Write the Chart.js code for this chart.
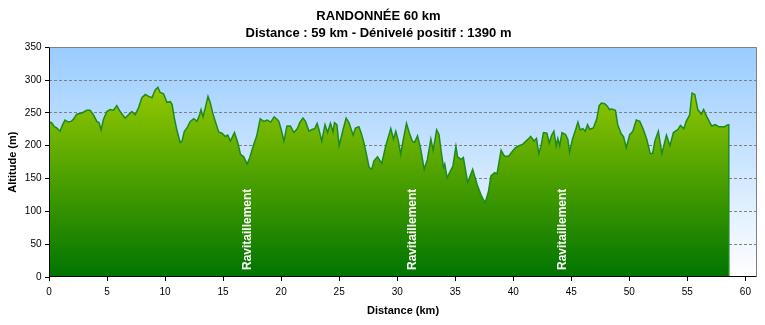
<!doctype html>
<html>
<head>
  <meta charset="utf-8">
  <title>Randonnée 60 km</title>
  <script src="https://cdn.jsdelivr.net/npm/chart.js@4.4.1/dist/chart.umd.min.js"></script>
  <style>
    body{margin:0;background:#fff;}
    #profile{display:block;}
  </style>
</head>
<body>
<canvas id="profile" width="765" height="325"></canvas>
<script>
// profile: distance (km) / altitude (m)
const distances = [
  0, 0.23, 0.46, 0.66, 0.95, 1.15, 1.38, 1.67, 1.9, 2.1, 2.39, 2.68, 2.96, 3.25, 3.54, 3.83, 4.12, 4.32, 4.49, 4.69,
  4.98, 5.27, 5.56, 5.84, 6.13, 6.56, 6.85, 7.14, 7.43, 7.72, 8.0, 8.3, 8.58, 8.87, 9.15, 9.38, 9.58, 9.87, 10.16, 10.45,
  10.6, 10.8, 11.0, 11.3, 11.46, 11.66, 11.89, 12.17, 12.47, 12.75, 12.98, 13.1, 13.27, 13.47, 13.7, 13.9, 14.1, 14.33, 14.62, 14.9,
  15.2, 15.4, 15.63, 15.98, 16.26, 16.5, 16.78, 17.07, 17.3, 17.6, 17.9, 18.2, 18.5, 18.8, 19.1, 19.4, 19.66, 19.8, 20.0, 20.24,
  20.5, 20.8, 21.1, 21.4, 21.6, 21.88, 22.1, 22.4, 22.7, 22.9, 23.1, 23.25, 23.5, 23.78, 24.0, 24.25, 24.47, 24.6, 24.8, 25.0,
  25.3, 25.6, 25.85, 26.2, 26.4, 26.7, 26.9, 27.1, 27.35, 27.58, 27.8, 28.0, 28.3, 28.67, 29.0, 29.45, 29.68, 29.88, 30.1, 30.3,
  30.5, 30.8, 31.03, 31.3, 31.5, 31.75, 32.0, 32.33, 32.6, 32.9, 33.1, 33.4, 33.6, 33.8, 33.99, 34.1, 34.3, 34.6, 34.8, 35.06,
  35.2, 35.5, 35.7, 36.07, 36.5, 36.9, 37.2, 37.57, 37.85, 38.08, 38.4, 38.6, 38.95, 39.24, 39.6, 40.0, 40.2, 40.5, 40.8, 41.1,
  41.4, 41.5, 41.8, 42.0, 42.2, 42.4, 42.6, 42.9, 43.1, 43.3, 43.5, 43.7, 43.84, 44.0, 44.2, 44.5, 44.7, 44.85, 45.1, 45.4,
  45.57, 45.77, 46.0, 46.2, 46.4, 46.6, 46.9, 47.2, 47.4, 47.6, 47.87, 48.07, 48.3, 48.5, 48.8, 49.0, 49.3, 49.5, 49.74, 50.03,
  50.3, 50.6, 50.9, 51.2, 51.5, 51.8, 52.0, 52.2, 52.5, 52.8, 53.0, 53.2, 53.5, 53.8, 54.2, 54.4, 54.7, 54.9, 55.2, 55.4,
  55.64, 55.9, 56.2, 56.4, 56.65, 56.94, 57.1, 57.4, 57.7, 57.94, 58.2, 58.5, 58.57, 58.57
];
const altitudes = [
  236, 235, 229, 227, 222, 231, 239, 236, 237, 240, 248, 249, 251, 254, 254, 247, 237, 235, 224, 240,
  252, 255, 254, 261, 252, 242, 247, 252, 247, 258, 273, 278, 275, 273, 285, 289, 281, 279, 266, 267,
  263, 242, 225, 205, 207, 222, 227, 237, 241, 237, 247, 255, 244, 258, 275, 265, 250, 237, 221, 219,
  214, 216, 207, 220, 205, 187, 183, 172, 182, 200, 215, 241, 237, 239, 236, 244, 240, 237, 225, 207,
  230, 230, 220, 226, 235, 242, 237, 222, 225, 226, 234, 225, 207, 232, 220, 234, 221, 235, 232, 200,
  222, 242, 235, 216, 227, 229, 219, 207, 187, 167, 164, 177, 183, 173, 199, 226, 210, 222, 207, 187,
  207, 234, 220, 207, 205, 215, 197, 164, 179, 210, 193, 224, 217, 190, 167, 172, 151, 162, 169, 199,
  183, 179, 182, 144, 164, 140, 126, 113, 129, 154, 159, 157, 193, 184, 184, 193, 197, 200, 202, 207,
  212, 214, 207, 211, 188, 200, 220, 219, 204, 216, 222, 200, 211, 200, 220, 217, 210, 190, 210, 226,
  236, 224, 226, 222, 232, 225, 227, 241, 261, 265, 264, 261, 255, 256, 254, 232, 218, 214, 197, 217,
  222, 239, 237, 225, 210, 188, 188, 207, 222, 188, 202, 216, 200, 220, 225, 231, 226, 237, 247, 280,
  278, 255, 248, 255, 245, 235, 230, 232, 229, 229, 229, 232, 232, 0
];
// supply points along the route (km)
const supplyKm = [17.1, 31.3, 44.3];
const supplyLabel = 'Ravitaillement';

const titleText = 'RANDONNÉE 60 km';
const subtitleText = 'Distance : 59 km - Dénivelé positif : 1390 m';

const FONT = 'Liberation Sans, Arial, sans-serif';

// sky behind the profile + frame and supply labels on top
const decor = {
  id: 'decor',
  beforeDraw(chart) {
    const {ctx, chartArea: a} = chart;
    const g = ctx.createLinearGradient(0, a.top, 0, a.bottom);
    g.addColorStop(0, '#99CCFF');
    g.addColorStop(1, '#FFFFFF');
    ctx.save();
    ctx.fillStyle = g;
    ctx.fillRect(a.left, a.top, a.right - a.left, a.bottom - a.top);
    ctx.restore();
  },
  afterDatasetsDraw(chart) {
    const {ctx, chartArea: a, scales: {x}} = chart;
    ctx.save();
    // supply labels
    ctx.fillStyle = '#FFFFFF';
    ctx.font = 'bold 12px ' + FONT;
    ctx.textAlign = 'left';
    ctx.textBaseline = 'middle';
    supplyKm.forEach(km => {
      ctx.save();
      ctx.translate(x.getPixelForValue(km), 270);
      ctx.rotate(-Math.PI / 2);
      ctx.fillText(supplyLabel, 0, 0);
      ctx.restore();
    });
    // frame
    const l = Math.round(a.left) + 0.5, r = Math.round(a.right) - 0.5;
    const t = Math.round(a.top) + 0.5, b = Math.round(a.bottom) - 0.5;
    ctx.lineWidth = 1;
    ctx.strokeStyle = '#808080';
    ctx.beginPath();
    ctx.moveTo(l, t); ctx.lineTo(r, t); ctx.lineTo(r, b);
    ctx.stroke();
    ctx.strokeStyle = '#000000';
    ctx.beginPath();
    ctx.moveTo(l, t); ctx.lineTo(l, b); ctx.lineTo(r, b);
    ctx.stroke();
    ctx.restore();
  }
};

const points = distances.map((d, i) => ({x: d, y: altitudes[i]}));

new Chart(document.getElementById('profile'), {
  type: 'line',
  data: {
    datasets: [{
      data: points,
      borderColor: '#1E8A1E',
      borderWidth: 1.5,
      pointRadius: 0,
      tension: 0,
      fill: 'origin',
      backgroundColor: (c) => {
        const {ctx, chartArea, scales} = c.chart;
        if (!chartArea) return '#66AA00';
        const g = ctx.createLinearGradient(0, scales.y.getPixelForValue(300), 0, chartArea.bottom);
        g.addColorStop(0, '#99CC00');
        g.addColorStop(1, '#007400');
        return g;
      }
    }]
  },
  options: {
    responsive: false,
    animation: false,
    layout: {padding: {left: 0, right: 8, top: 0, bottom: 0}},
    plugins: {
      legend: {display: false},
      tooltip: {enabled: false},
      title: {
        display: true,
        text: titleText,
        color: '#000',
        font: {family: FONT, size: 13, weight: 'bold'},
        padding: {top: 9, bottom: 0}
      },
      subtitle: {
        display: true,
        text: subtitleText,
        color: '#000',
        font: {family: FONT, size: 13, weight: 'bold'},
        padding: {top: 1, bottom: 6}
      }
    },
    scales: {
      x: {
        type: 'linear',
        min: 0,
        max: 61,
        afterFit: s => { s.height = 48; },
        ticks: {stepSize: 5, includeBounds: false, color: '#000', padding: 5,
                font: {family: FONT, size: 10}, maxRotation: 0},
        grid: {drawOnChartArea: false, drawTicks: true, tickLength: 4, tickColor: '#000'},
        border: {display: false},
        title: {display: true, text: 'Distance (km)', color: '#000',
                font: {family: FONT, size: 11, weight: 'bold'}, padding: {top: 0, bottom: 7}}
      },
      y: {
        min: 0,
        max: 350,
        afterFit: s => { s.width = 49; },
        ticks: {stepSize: 50, color: '#000', padding: 3.5, font: {family: FONT, size: 10}},
        grid: {
          color: c => (c.tick.value === 0 || c.tick.value === 350) ? 'rgba(0,0,0,0)' : '#808080',
          tickColor: '#000',
          tickLength: 4,
          tickBorderDash: []
        },
        border: {display: false, dash: [3, 2]},
        title: {display: true, text: 'Altitude (m)', color: '#000',
                font: {family: FONT, size: 11, weight: 'bold'}, padding: {top: 6, bottom: 0}}
      }
    }
  },
  plugins: [decor]
});
</script>
</body>
</html>
